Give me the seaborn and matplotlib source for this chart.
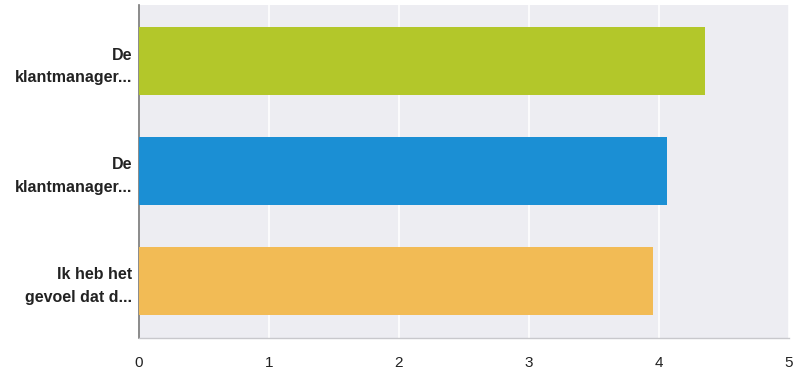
import matplotlib
matplotlib.use("Agg")
import matplotlib.pyplot as plt
import seaborn as sns
import pandas as pd

# Survey statements (truncated as in the report) and their mean scores
statements = ["De\nklantmanager...", "De\nklantmanager...", "Ik heb het\ngevoel dat d..."]
scores = [4.35, 4.06, 3.95]
bar_colors = ["#b3c72a", "#1b8fd4", "#f2bb55"]
x_ticks = [0, 1, 2, 3, 4, 5]

sns.set_theme(style="white")
plt.rcParams["font.family"] = ["Liberation Sans", "DejaVu Sans"]

df = pd.DataFrame({"item": [f"q{i}" for i in range(len(statements))],
                   "score": scores})

fig = plt.figure(figsize=(7.95, 3.74), dpi=100)
ax = fig.add_axes([0.1748, 0.0963, 0.8177, 0.8903])
ax.set_facecolor("#ededf2")

sns.barplot(data=df, x="score", y="item", hue="item", palette=bar_colors,
            legend=False, width=0.62, saturation=1, linewidth=0,
            ax=ax, zorder=3)

ax.set_xlim(0, 5)
ax.set_ylim(2.52, -0.51)
ax.set_xticks(x_ticks)
ax.set_xticklabels([str(t) for t in x_ticks], fontsize=11, color="#222222")
ax.set_yticks(range(len(statements)))
ax.set_yticklabels(statements, fontsize=11.5, fontweight="bold", color="#222222",
                   linespacing=1.6)
ax.tick_params(axis="x", length=0, pad=13)
ax.tick_params(axis="y", length=0, pad=5)
ax.set_xlabel("")
ax.set_ylabel("")

ax.grid(axis="x", color="white", linewidth=1.2, zorder=0)
ax.set_axisbelow(True)

for side in ["top", "right"]:
    ax.spines[side].set_visible(False)
ax.spines["left"].set_color("#777777")
ax.spines["left"].set_linewidth(1.2)
ax.spines["bottom"].set_color("#c8c8cc")
ax.spines["bottom"].set_linewidth(1.0)

fig.savefig("out.png", dpi=100, facecolor="white")
